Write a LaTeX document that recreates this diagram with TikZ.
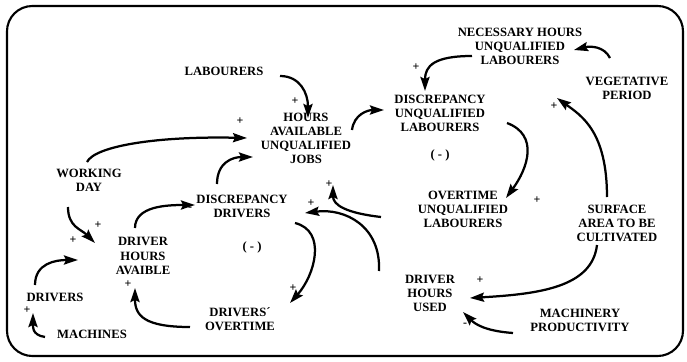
\documentclass[tikz,border=0pt]{standalone}
\usepackage{fontspec}
\setmainfont{Liberation Serif}
\usetikzlibrary{arrows.meta}

\tikzset{
    lbl/.style={align=center, inner sep=1pt, font=\bfseries\fontsize{9}{10}\selectfont},
    sgn/.style={inner sep=0pt, font=\bfseries\fontsize{8.5}{8.5}\selectfont},
    arr/.style={line width=1.6pt, -{Stealth[length=10pt,width=6.5pt,inset=1.5pt]}}
}

\begin{document}
\begin{tikzpicture}[x=0.025cm, y=-0.025cm]
    \useasboundingbox (0,0) rectangle (687,362);
    \draw[line width=1.5pt, rounded corners=18pt] (7,6) rectangle (683,356);

    \node[lbl] (lab) at (224,71) {LABOURERS};
    \node[lbl] (hauj) at (306,138) {HOURS\\AVAILABLE\\UNQUALIFIED\\JOBS};
    \node[lbl] (nhul) at (520,46) {NECESSARY HOURS\\UNQUALIFIED\\LABOURERS};
    \node[lbl] (veg) at (627,88) {VEGETATIVE\\PERIOD};
    \node[lbl] (dul) at (440,113) {DISCREPANCY\\UNQUALIFIED\\LABOURERS};
    \node[lbl] (loopr) at (440,155) {( - )};
    \node[lbl] (work) at (89,180) {WORKING\\DAY};
    \node[lbl] (dd) at (242,206) {DISCREPANCY\\DRIVERS};
    \node[lbl] (loopl) at (252,247) {( - )};
    \node[lbl] (dha) at (143,256) {DRIVER\\HOURS\\AVAIBLE};
    \node[lbl] (oul) at (463,209) {OVERTIME\\UNQUALIFIED\\LABOURERS};
    \node[lbl] (surf) at (617,223) {SURFACE\\AREA TO BE\\CULTIVATED};
    \node[lbl] (dhu) at (430,293) {DRIVER\\HOURS\\USED};
    \node[lbl] (drv) at (55,297) {DRIVERS};
    \node[lbl] (mach) at (92,334) {MACHINES};
    \node[lbl] (dot) at (240,319) {DRIVERS´\\OVERTIME};
    \node[lbl] (mp) at (580,320) {MACHINERY\\PRODUCTIVITY};

    % signs
    \node[sgn] (s1) at (295,101) {+};
    \node[sgn] (s2) at (240,121) {+};
    \node[sgn] (s3) at (416,67) {+};
    \node[sgn] (s4) at (537,200) {+};
    \node[sgn] (s5) at (554,106) {+};
    \node[sgn] (s6) at (480,280) {+};
    \node[sgn] (s7) at (465,325) {-};
    \node[sgn] (s8) at (329,184) {+};
    \node[sgn] (s9) at (311,203) {+};
    \node[sgn] (s10) at (293,288) {+};
    \node[sgn] (s11) at (128,284) {+};
    \node[sgn] (s12) at (190,209) {-};
    \node[sgn] (s13) at (98,225) {+};
    \node[sgn] (s14) at (73,240) {+};
    \node[sgn] (s15) at (27,310) {+};

    % links
    \draw[arr] ([shift={(56,5)}]lab.center) .. controls +(20,0) and +(0,-25) .. ([shift={(2,-20)}]hauj.center);
    \draw[arr] ([shift={(-2,-18)}]work.center) .. controls +(8,-16) and +(-90,-2) .. ([shift={(-59,0)}]hauj.center);
    \draw[arr] ([shift={(-25,-22)}]dd.center) .. controls +(0,-22) and +(-20,0) .. ([shift={(-53,19)}]hauj.center);
    \draw[arr] ([shift={(46,-8)}]hauj.center) .. controls +(2,-16) and +(-16,0) .. ([shift={(-56,-3)}]dul.center);
    \draw[arr] ([shift={(-48,10)}]nhul.center) .. controls +(-38,0) and +(0,-25) .. ([shift={(-15,-22)}]dul.center);
    \draw[arr] ([shift={(-17,-30)}]veg.center) .. controls +(-6,-12) and +(16,-4) .. ([shift={(54,4)}]nhul.center);
    \draw[arr] ([shift={(67,10)}]dul.center) .. controls +(32,12) and +(22,-30) .. ([shift={(43,-11)}]oul.center);
    \draw[arr] ([shift={(-10,-26)}]surf.center) .. controls +(0,-65) and +(25,18) .. ([shift={(37,52)}]nhul.center);
    \draw[arr] ([shift={(-20,22)}]surf.center) .. controls +(-5,42) and +(70,-4) .. ([shift={(40,5)}]dhu.center);
    \draw[arr] ([shift={(-67,13)}]mp.center) .. controls +(-28,-2) and +(12,12) .. ([shift={(33,19)}]dhu.center);
    \draw[arr] ([shift={(-82,8)}]oul.center) .. controls +(-35,-4) and +(0,20) .. ([shift={(27,47)}]hauj.center);
    \draw[arr] ([shift={(-51,-22)}]dhu.center) .. controls +(2,-45) and +(40,-5) .. ([shift={(63,7)}]dd.center);
    \draw[arr] ([shift={(53,17)}]dd.center) .. controls +(32,8) and +(25,-28) .. ([shift={(50,-16)}]dot.center);
    \draw[arr] ([shift={(-50,8)}]dot.center) .. controls +(-45,0) and +(0,28) .. ([shift={(-8,32)}]dha.center);
    \draw[arr] ([shift={(-8,-28)}]dha.center) .. controls +(0,-22) and +(-28,0) .. ([shift={(-47,-1)}]dd.center);
    \draw[arr] ([shift={(-21,27)}]work.center) .. controls +(0,20) and +(-14,-14) .. ([shift={(-48,-13)}]dha.center);
    \draw[arr] ([shift={(-20,-12)}]drv.center) .. controls +(0,-22) and +(-22,0) .. ([shift={(-65,4)}]dha.center);
    \draw[arr] ([shift={(-47,3)}]mach.center) .. controls +(-14,-2) and +(0,12) .. ([shift={(-22,16)}]drv.center);
\end{tikzpicture}
\end{document}
